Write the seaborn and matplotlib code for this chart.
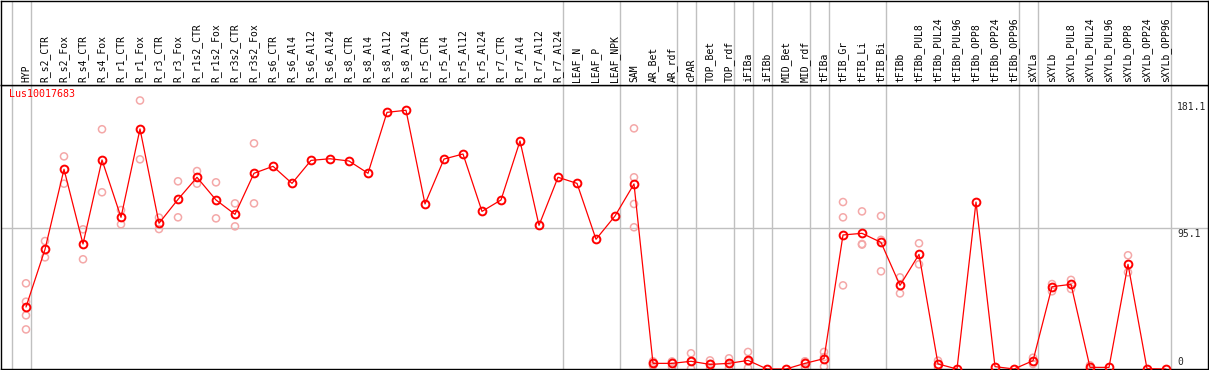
import pandas as pd
import matplotlib
matplotlib.use("Agg")
import matplotlib.pyplot as plt
import seaborn as sns

sns.set_style("white")
plt.rcParams['font.family'] = ['DejaVu Sans Mono']

# === Data ===
gene = "Lus10017683"

samples = [
    'HYP', 'R_s2_CTR', 'R_s2_Fox', 'R_s4_CTR', 'R_s4_Fox', 'R_r1_CTR', 'R_r1_Fox',
    'R_r3_CTR', 'R_r3_Fox', 'R_r1s2_CTR', 'R_r1s2_Fox', 'R_r3s2_CTR', 'R_r3s2_Fox',
    'R_s6_CTR', 'R_s6_Al4', 'R_s6_Al12', 'R_s6_Al24', 'R_s8_CTR', 'R_s8_Al4',
    'R_s8_Al12', 'R_s8_Al24', 'R_r5_CTR', 'R_r5_Al4', 'R_r5_Al12', 'R_r5_Al24',
    'R_r7_CTR', 'R_r7_Al4', 'R_r7_Al12', 'R_r7_Al24', 'LEAF_N', 'LEAF_P', 'LEAF_NPK',
    'SAM', 'AR_Bet', 'AR_rdf', 'cPAR', 'TOP_Bet', 'TOP_rdf', 'iFIBa', 'iFIBb',
    'MID_Bet', 'MID_rdf', 'tFIBa', 'tFIB_Gr', 'tFIB_Li', 'tFIB_Bi', 'tFIBb',
    'tFIBb_PUL8', 'tFIBb_PUL24', 'tFIBb_PUL96', 'tFIBb_OPP8', 'tFIBb_OPP24',
    'tFIBb_OPP96', 'sXYLa', 'sXYLb', 'sXYLb_PUL8', 'sXYLb_PUL24', 'sXYLb_PUL96',
    'sXYLb_OPP8', 'sXYLb_OPP24', 'sXYLb_OPP96'
]

means = [
    41.8, 80.7, 134.7, 84.3, 141.0, 102.3, 161.9, 98.3, 114.4, 129.3, 114.0, 104.3, 132.0,
    136.7, 125.2, 140.7, 141.8, 140.3, 132.0, 173.1, 174.5,
    111.3, 141.6, 145.0, 106.3, 114.0, 153.8, 96.9, 129.3,
    125.2, 87.5, 103.2, 124.8,
    3.8, 3.8, 5.2, 3.1, 3.8, 5.8, 0.0, 0.0, 3.8,
    7.0, 90.4, 91.5, 85.4, 56.4, 77.3, 3.4, 0.0, 112.6, 1.6, 0.0,
    5.6, 55.5, 57.1, 1.1, 1.1, 70.6, 0.2, 0.0
]

replicates = [
    [57.8, 45.4, 36.2, 26.7], [86.3, 75.3], [143.4, 125.0], [94.2, 74.0],
    [161.7, 119.2], [107.2, 97.6], [181.1, 141.4], [102.1, 94.4],
    [126.6, 102.3], [133.5, 125.0], [125.9, 101.6], [111.7, 96.2],
    [152.2, 111.7],
    [], [], [], [], [], [], [], [],
    [], [], [], [], [], [], [], [],
    [], [], [], [162.3, 129.3, 111.3, 95.6],
    [5.2, 4.0, 2.2], [4.9, 5.0, 1.5], [10.6, 4.9, 0.2], [5.8, 3.5, 0.0],
    [7.2, 3.5, 0.7], [11.5, 5.2, 0.7], [], [], [5.2, 4.9, 1.3],
    [11.5, 8.0, 1.6], [112.6, 102.3, 56.4], [106.3, 84.3, 83.9],
    [103.2, 87.1, 65.9], [61.8, 51.0], [84.8, 70.6], [5.6, 1.2], [], [], [], [],
    [7.6, 3.4], [57.3, 52.4], [60.1, 54.0], [2.5, 0.0], [], [76.7, 65.2], [], []
]

# group separators sit just after these sample indices
group_ends = [-1, 0, 28, 31, 34, 35, 37, 38, 39, 41, 42, 45, 52, 53, 60]

y_ticks = [0, 95.1, 181.1]
y_tick_labels = ['0', '95.1', '181.1']

# === Frames ===
idx = list(range(len(samples)))
df_mean = pd.DataFrame({'idx': idx, 'value': means})
df_rep = pd.DataFrame(
    [(i, v) for i, reps in enumerate(replicates) for v in reps],
    columns=['idx', 'value'])

W, H = 1209, 370
fig = plt.figure(figsize=(W / 100, H / 100), dpi=100)
ax = fig.add_axes([1 / W, 1 / H, 1207 / W, 284 / H])
lab = fig.add_axes([1 / W, 285 / H, 1207 / W, 84.5 / H])

xlim = ((1 - 26) / 19, (1208 - 26) / 19)
ylim = (0, 284 / 1.4827)
grey = '#c0c0c0'

for a in (ax, lab):
    a.set_xlim(*xlim)
    a.set_xticks([])
    a.set_yticks([])
    for s in a.spines.values():
        s.set_color('black')
        s.set_linewidth(1.0)
    for g in group_ends:
        a.axvline(g + 0.24, color=grey, lw=1.0, zorder=0)

ax.set_ylim(*ylim)
lab.set_ylim(0, 1)
ax.axhline(95.1, color=grey, lw=1.0, zorder=0)

# replicate points
sns.scatterplot(data=df_rep, x='idx', y='value', ax=ax, marker='o', s=26,
                facecolor='none', edgecolor='#f4a8a8', linewidth=1.1, zorder=2)

# mean line
sns.lineplot(data=df_mean, x='idx', y='value', ax=ax, color='#ff0000', lw=0.9,
             marker='o', markersize=5.6, markerfacecolor='none',
             markeredgecolor='#ff0000', markeredgewidth=1.4, zorder=3)

ax.set_xlabel('')
ax.set_ylabel('')
lab.set_xlabel('')
lab.set_ylabel('')

# sample labels
for i, name in enumerate(samples):
    lab.text(i, 2.5 / 84.5, name, rotation=90, ha='center', va='bottom',
             fontsize=7, color='black')

# gene name
ax.text(-0.88, ylim[1] - 9 / 1.4827, gene, color='#ff0000', fontsize=7.2,
        ha='left', va='center')

# right-hand value labels
xr = (1177 - 26) / 19
for v, t in zip(y_ticks, y_tick_labels):
    if v == 0:
        ax.text(xr, v + 1.5, t, fontsize=7, ha='left', va='bottom')
    else:
        ax.text(xr, v - 1.0, t, fontsize=7, ha='left', va='top')

fig.savefig('out.png', dpi=100)
